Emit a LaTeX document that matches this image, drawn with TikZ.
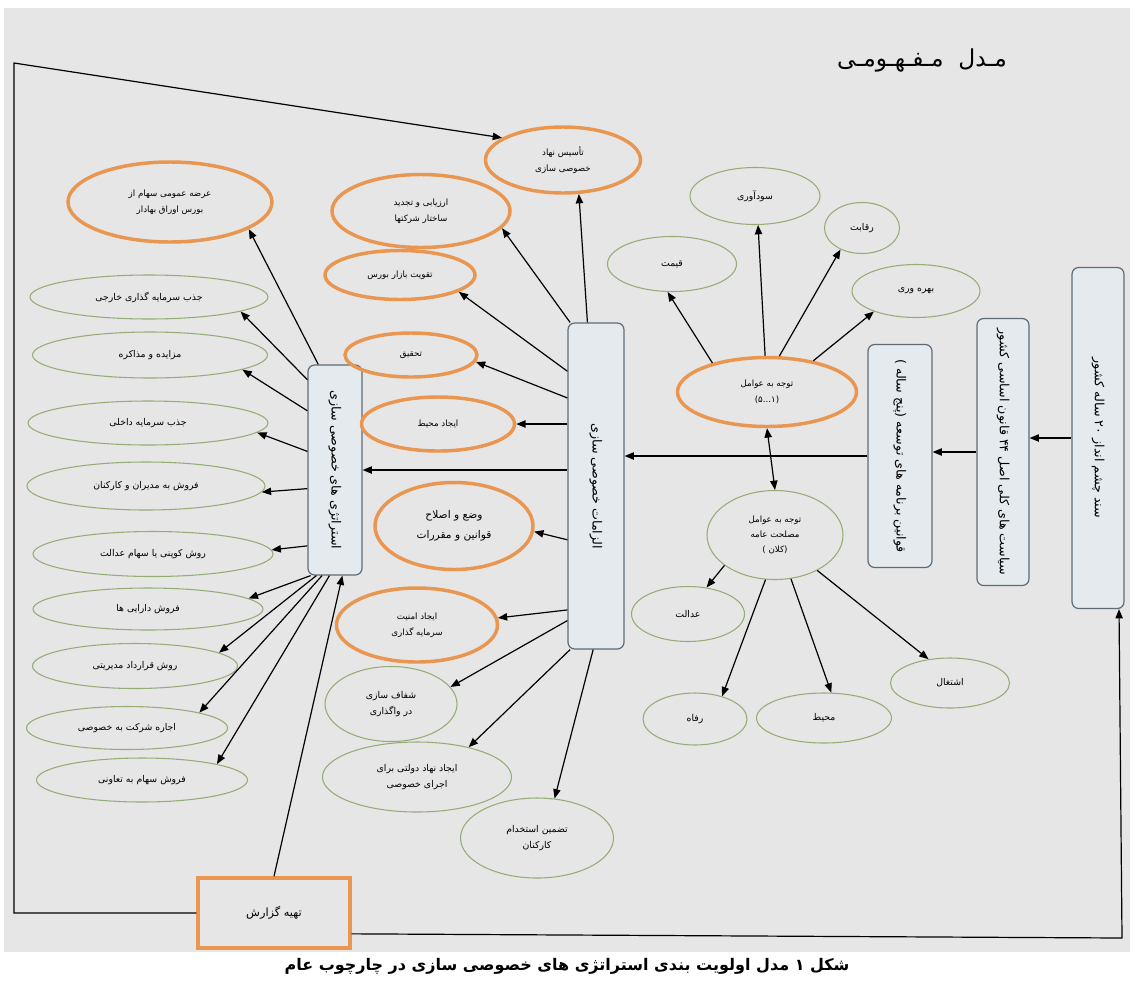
\documentclass[tikz,border=0pt]{standalone}
\usepackage{fontspec}
\newfontfamily\fa[Script=Arabic]{DejaVu Sans}
\TeXXeTstate=1
\usetikzlibrary{shapes.geometric,arrows.meta}
\newcommand\RL[1]{\beginR #1\endR}
\definecolor{bgc}{RGB}{230,230,230}
\definecolor{org}{RGB}{233,150,80}
\definecolor{grn}{RGB}{150,172,118}
\definecolor{bxd}{RGB}{95,108,118}
\definecolor{bxf}{RGB}{228,234,237}
\tikzset{
  sz/.style 2 args={minimum width=#1*0.75pt,minimum height=#2*0.75pt},
  oel/.style={ellipse,draw=org,line width=2.6pt,inner sep=0pt,align=center,font=\fa\fontsize{6.5}{12}\selectfont},
  gel/.style={ellipse,draw=grn,line width=0.8pt,inner sep=0pt,align=center,font=\fa\fontsize{7}{12}\selectfont},
  vbx/.style={rectangle,rounded corners=5pt,draw=bxd,fill=bxf,line width=0.9pt,inner sep=0pt},
  vlab/.style={rotate=-90,font=\fa\fontsize{9.5}{11}\selectfont},
  arr/.style={-{Triangle[length=7pt,width=5.5pt]},line width=0.9pt},
  darr/.style={{Triangle[length=7pt,width=5.5pt]}-{Triangle[length=7pt,width=5.5pt]},line width=0.9pt},
  ln/.style={line width=0.9pt}
}
\begin{document}
\begin{tikzpicture}[x=0.75pt,y=-0.75pt]
\useasboundingbox (0,0) rectangle (1134,982);
\fill[white] (0,0) rectangle (1134,982);
\fill[bgc] (4,8) rectangle (1130,952);

% title and caption
\node (title) at (922,60) {\fa\fontsize{17.5}{18}\selectfont\RL{مـدل\ \ مـفـهـومـی}};
\node (cap) at (567,966) {\fa\bfseries\fontsize{12}{13}\selectfont\RL{شکل ۱ مدل اولویت بندی استراتژی های خصوصی سازی در چارچوب عام}};

% right boxes
\node[vbx,sz={52}{341},label={[vlab]center:\RL{سند چشم انداز ۲۰ ساله کشور}}] (Sn) at (1098,438) {};
\node[vbx,sz={52}{267},label={[vlab]center:\RL{سیاست های کلی اصل ۴۴ قانون اساسی کشور}}] (Sp) at (1003,452) {};
\node[vbx,sz={64}{223},label={[vlab]center:\RL{قوانین برنامه های توسعه (پنج ساله )}}] (L) at (900,456) {};
\node[vbx,sz={56}{326},label={[vlab]center:\RL{الزامات خصوصی سازی}}] (M) at (596,486) {};
\node[vbx,sz={54}{210},label={[vlab]center:\RL{استراتژی های خصوصی سازی}}] (S) at (335,470) {};

% left column
\node[oel,sz={204}{80}] (E1) at (170,202) {\RL{عرضه عمومی سهام از}\\\RL{بورس اوراق بهادار}};
\node[gel,sz={238}{44}] (E2) at (149,297) {\RL{جذب سرمایه گذاری خارجی}};
\node[gel,sz={235}{46}] (E3) at (150,355) {\RL{مزایده و مذاکره}};
\node[gel,sz={240}{44}] (E4) at (148,423) {\RL{جذب سرمایه داخلی}};
\node[gel,sz={238}{48}] (E5) at (146,486) {\RL{فروش به مدیران و کارکنان}};
\node[gel,sz={240}{45}] (E6) at (153,554) {\RL{روش کوپنی یا سهام عدالت}};
\node[gel,sz={230}{42}] (E7) at (148,609) {\RL{فروش دارایی ها}};
\node[gel,sz={205}{45}] (E8) at (135,666) {\RL{روش قرارداد مدیریتی}};
\node[gel,sz={201}{43}] (E9) at (127,728) {\RL{اجاره شرکت به خصوصی}};
\node[gel,sz={211}{44}] (E10) at (142,780) {\RL{فروش سهام به تعاونی}};

% requirements
\node[oel,sz={155}{66}] (T) at (563,160) {\RL{تأسیس نهاد}\\\RL{خصوصی سازی}};
\node[oel,sz={178}{73}] (A) at (421,211) {\RL{ارزیابی و تجدید}\\\RL{ساختار شرکتها}};
\node[oel,sz={150}{49}] (B) at (400,275) {\RL{تقویت بازار بورس}};
\node[oel,sz={132}{44}] (C) at (411,355) {\RL{تحقیق}};
\node[oel,sz={153}{54}] (D) at (438,424) {\RL{ایجاد محیط}};
\node[oel,sz={158}{87},font=\fa\fontsize{8}{15}\selectfont] (W) at (454,526) {\RL{وضع و اصلاح}\\\RL{قوانین و مقررات}};
\node[oel,sz={161}{74}] (I) at (417,625) {\RL{ایجاد امنیت}\\\RL{سرمایه گذاری}};
\node[gel,sz={132}{75}] (F) at (391,704) {\RL{شفاف سازی}\\\RL{در واگذاری}};
\node[gel,sz={189}{70}] (G) at (417,777) {\RL{ایجاد نهاد دولتی برای}\\\RL{اجرای خصوصی}};
\node[gel,sz={153}{80}] (H) at (537,838) {\RL{تضمین استخدام}\\\RL{کارکنان}};

% factors
\node[gel,sz={129}{55}] (Q) at (672,264) {\RL{قیمت}};
\node[gel,sz={130}{57}] (P) at (755,196) {\RL{سودآوری}};
\node[gel,sz={75}{51}] (R) at (862,228) {\RL{رقابت}};
\node[gel,sz={128}{53}] (Bv) at (916,291) {\RL{بهره وری}};
\node[oel,sz={179}{69}] (N) at (767,392) {\RL{توجه به عوامل}\\\RL{(۱...۵)}};
\node[gel,sz={136}{89},font=\fa\fontsize{6.5}{11}\selectfont] (K) at (775,535) {\RL{توجه به عوامل}\\\RL{مصلحت عامه}\\\RL{(کلان )}};
\node[gel,sz={113}{55}] (J) at (688,614) {\RL{عدالت}};
\node[gel,sz={104}{52}] (Rf) at (695,719) {\RL{رفاه}};
\node[gel,sz={135}{50}] (Mh) at (824,718) {\RL{محیط}};
\node[gel,sz={119}{50}] (Es) at (950,683) {\RL{اشتغال}};

% report
\node[rectangle,draw=org,line width=2.6pt,sz={152}{70},font=\fa\fontsize{8.5}{10}\selectfont] (Rep) at (274,913) {\RL{تهیه گزارش}};

% frame coordinates
\coordinate (bl) at (14,913);
\coordinate (tl) at (14,63);
\coordinate (br) at (1122,938);

% connectors: right chain
\draw[arr] (Sn.west) -- (Sp.east |- Sn.west);
\draw[arr] (Sp.west) -- (L.east |- Sp.west);
\draw[arr] (L.west) -- (M.east |- L.west);

% from requirements box
\draw[arr] (M.93) -- (T.-65);
\draw[arr] (M.99) -- (A.-12);
\draw[arr] (M.104) -- (B.-16);
\draw[arr] (M.108) -- (C.-6);
\draw[arr] (M.west |- D.east) -- (D.east);
\draw[arr] (M.west |- S.east) -- (S.east);
\draw[arr] (M.-118) -- (W.-4);
\draw[arr] (M.-103) -- (I.5);
\draw[arr] (M.-102) -- (F.16);
\draw[arr] (M.-99) -- (G.30);
\draw[arr] (M.-91) -- (H.66);

% from strategy box
\draw[arr] (S.99) -- (E1.-19);
\draw[arr] (S.107) -- (E2.-9);
\draw[arr] (S.115) -- (E3.-9);
\draw[arr] (S.146) -- (E4.-5);
\draw[arr] (S.214) -- (E5.-3);
\draw[arr] (S.250) -- (E6.2);
\draw[arr] (S.257) -- (E7.6);
\draw[arr] (S.260) -- (E8.9);
\draw[arr] (S.263) -- (E9.12);
\draw[arr] (S.267) -- (E10.12);

% factors
\draw[arr] (N.152) -- (Q.-99);
\draw[arr] (N.93) -- (P.-84);
\draw[arr] (N.71) -- (R.-135);
\draw[arr] (N.34) -- (Bv.206);
\draw[darr] (N.south) -- (K.north);
\draw[arr] (K.211) -- (J.55);
\draw[arr] (K.258) -- (Rf.40);
\draw[arr] (K.-70) -- (Mh.74);
\draw[arr] (K.-40) -- (Es.132);

% report and frame
\draw[arr] (Rep.north) -- (S.274);
\draw[arr] (Rep.west) -- (bl) -- (tl) -- (T.160);
\draw[arr] (Rep.-15) -- (br) -- (Sn.-83);
\end{tikzpicture}
\end{document}
